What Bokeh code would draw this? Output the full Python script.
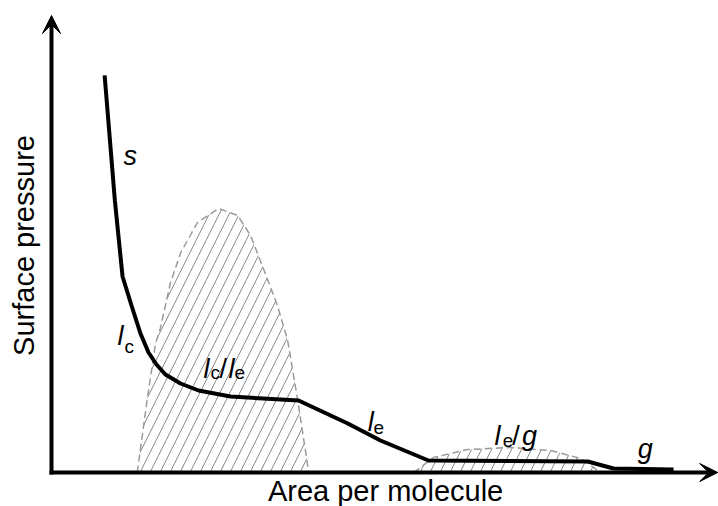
from bokeh.plotting import figure
from bokeh.models import Range1d, Arrow, VeeHead, ColumnDataSource
from bokeh.core.properties import value
from bokeh.embed import file_html
from bokeh.resources import INLINE

# Schematic isotherm (arbitrary units): area per molecule vs surface pressure
area = [0.83, 0.99, 1.11, 1.25, 1.39, 1.516, 1.64, 1.78, 2.016, 2.297, 2.797,
        3.86, 4.63, 5.14, 5.89, 8.38, 8.78, 9.72]
pressure = [9.93, 6.8, 4.9, 4.175, 3.475, 3.0, 2.7, 2.45, 2.225, 2.05, 1.9,
            1.8, 1.225, 0.8, 0.3, 0.275, 0.1, 0.075]

# coexistence regions (dashed, hatched)
lc_le_area = [1.34, 1.5, 1.625, 1.70, 1.86, 2.02, 2.28, 2.61, 2.91, 3.11,
              3.31, 3.53, 3.69, 3.84, 4.02]
lc_le_press = [0, 1.875, 3.225, 3.6, 4.75, 5.5, 6.25, 6.6, 6.425, 5.925,
               5.1, 4.175, 3.3, 1.875, 0]
le_g_area = [5.66, 5.97, 6.5, 7.17, 7.8, 8.27, 8.58]
le_g_press = [0, 0.375, 0.575, 0.625, 0.55, 0.35, 0]

# phase labels: main (italic) letters and subscripts
main_text = ["s", "l", "l", "l", "l", "l", "g", "g"]
main_x = [1.125, 1.03, 2.375, 2.766, 4.94, 6.92, 7.35, 9.16]
main_y = [7.925, 3.425, 2.6, 2.6, 1.275, 0.925, 0.925, 0.6]
sub_text = ["c", "c", "e", "e", "e"]
sub_x = [1.14, 2.484, 2.86, 5.03, 7.05]
sub_y = [3.15, 2.5, 2.5, 1.125, 0.8]
slash_x = [2.625, 7.2]
slash_y = [2.6, 0.925]

X_LABEL = "Area per molecule"
Y_LABEL = "Surface pressure"

FONT = "Liberation Sans"

p = figure(width=718, height=506, output_backend="svg", toolbar_location=None,
           x_range=Range1d(-0.797, 10.422), y_range=Range1d(-0.85, 11.8),
           min_border=0, outline_line_color=None)
p.xaxis.visible = False
p.yaxis.visible = False
p.grid.visible = False
p.background_fill_color = "white"
p.border_fill_color = "white"

for xs, ys in [(lc_le_area, lc_le_press), (le_g_area, le_g_press)]:
    p.patch(xs, ys, fill_color=None, fill_alpha=0,
            hatch_pattern="/", hatch_color="#8a8a8a", hatch_scale=20,
            hatch_weight=1,
            line_color="#9a9a9a", line_dash="7 4", line_width=1.5)

p.line(area, pressure, line_color="black", line_width=4)

# axes as arrows
p.add_layout(Arrow(end=VeeHead(size=18, fill_color="black", line_color="black"),
                   x_start=0, y_start=-0.05, x_end=0, y_end=11.425,
                   line_width=4, line_color="black"))
p.add_layout(Arrow(end=VeeHead(size=18, fill_color="black", line_color="black"),
                   x_start=-0.031, y_start=0, x_end=10.41, y_end=0,
                   line_width=4, line_color="black"))

src_main = ColumnDataSource(dict(x=main_x, y=main_y, t=main_text))
p.text(x="x", y="y", text="t", source=src_main, text_font=value(FONT),
       text_font_style="italic", text_font_size="27px", text_color="black",
       text_baseline="alphabetic", text_align="left")
src_sub = ColumnDataSource(dict(x=sub_x, y=sub_y, t=sub_text))
p.text(x="x", y="y", text="t", source=src_sub, text_font=value(FONT),
       text_font_size="19px", text_color="black",
       text_baseline="alphabetic", text_align="left")
src_sl = ColumnDataSource(dict(x=slash_x, y=slash_y, t=["/"] * len(slash_x)))
p.text(x="x", y="y", text="t", source=src_sl, text_font=value(FONT),
       text_font_size="27px", text_color="black",
       text_baseline="alphabetic", text_align="left")

p.text(x=[5.22], y=[-0.47], text=[X_LABEL], text_font=value(FONT),
       text_font_size="29px", text_color="black",
       text_baseline="alphabetic", text_align="center")
p.text(x=[-0.436], y=[5.675], text=[Y_LABEL], text_font=value(FONT),
       text_font_size="29px", text_color="black", angle=1.5708,
       text_baseline="alphabetic", text_align="center")

open("out.html", "w").write(file_html(p, INLINE))
